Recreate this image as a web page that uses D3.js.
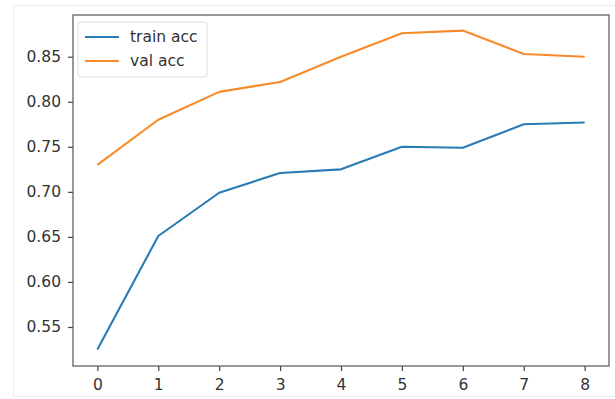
<!DOCTYPE html>
<html>
<head>
<meta charset="utf-8">
<script src="https://cdn.jsdelivr.net/npm/d3@7"></script>
<style>
  body { margin: 0; background: #fff; }
  svg { display: block; font-family: "DejaVu Sans", sans-serif; }
</style>
</head>
<body>
<svg id="chart" width="615" height="399"></svg>
<script>
// Accuracy per epoch
const epochs = [0, 1, 2, 3, 4, 5, 6, 7, 8];
const trainAcc = [0.525, 0.651, 0.699, 0.721, 0.725, 0.750, 0.749, 0.775, 0.777];
const valAcc = [0.730, 0.780, 0.811, 0.822, 0.850, 0.876, 0.879, 0.853, 0.850];
const yTicks = [0.55, 0.60, 0.65, 0.70, 0.75, 0.80, 0.85];

const svg = d3.select('#chart');
const width = 615;
const height = 399;
const margin = { top: 15, right: 6, bottom: 33, left: 73 };

// faint output frame
svg.append('rect')
  .attr('x', 13.5).attr('y', 5.5)
  .attr('width', width - 13).attr('height', 391)
  .attr('fill', 'none')
  .attr('stroke', '#ececec');

const xScale = d3.scaleLinear()
  .domain([-0.4, 8.4])
  .range([margin.left, width - margin.right]);

const yScale = d3.scaleLinear()
  .domain([0.5067, 0.8963])
  .range([height - margin.bottom, margin.top]);

// axes
const xAxis = svg.append('g')
  .attr('transform', `translate(0,${height - margin.bottom})`)
  .call(d3.axisBottom(xScale).tickValues(epochs).tickSize(5).tickPadding(8));

const yAxis = svg.append('g')
  .attr('transform', `translate(${margin.left},0)`)
  .call(d3.axisLeft(yScale).tickValues(yTicks).tickFormat(d3.format('.2f')).tickSize(5).tickPadding(7));

[xAxis, yAxis].forEach(ax => {
  ax.select('.domain').remove();
  ax.selectAll('line').attr('stroke', '#444').attr('stroke-width', 1.2);
  ax.selectAll('text').attr('fill', '#333').attr('font-size', '15.5px').attr('font-family', '"DejaVu Sans", sans-serif');
});

// lines
const line = d3.line()
  .x((d, i) => xScale(epochs[i]))
  .y(d => yScale(d));

svg.append('path')
  .datum(trainAcc)
  .attr('d', line)
  .attr('fill', 'none')
  .attr('stroke', '#2a7ab4')
  .attr('stroke-width', 2.1)
  .attr('stroke-linejoin', 'round');

svg.append('path')
  .datum(valAcc)
  .attr('d', line)
  .attr('fill', 'none')
  .attr('stroke', '#f98a2a')
  .attr('stroke-width', 2.1)
  .attr('stroke-linejoin', 'round');

// frame (spines)
svg.append('rect')
  .attr('x', margin.left)
  .attr('y', margin.top)
  .attr('width', width - margin.left - margin.right)
  .attr('height', height - margin.top - margin.bottom)
  .attr('fill', 'none')
  .attr('stroke', '#555')
  .attr('stroke-width', 1.2);

// legend
const legendData = [
  { label: 'train acc', color: '#2a7ab4' },
  { label: 'val acc', color: '#f98a2a' }
];

const legend = svg.append('g')
  .attr('transform', `translate(${margin.left + 5}, ${margin.top + 7})`);

legend.append('rect')
  .attr('x', 0).attr('y', 0)
  .attr('width', 129).attr('height', 55)
  .attr('rx', 3)
  .attr('fill', '#fff')
  .attr('fill-opacity', 0.8)
  .attr('stroke', '#dcdcdc');

legendData.forEach((item, i) => {
  const g = legend.append('g')
    .attr('transform', `translate(7, ${15 + i * 24})`);

  g.append('line')
    .attr('x1', 0).attr('x2', 34)
    .attr('y1', 0).attr('y2', 0)
    .attr('stroke', item.color)
    .attr('stroke-width', 2.1);

  g.append('text')
    .attr('x', 45)
    .attr('y', 5)
    .attr('fill', '#333')
    .attr('font-size', '15.5px')
    .text(item.label);
});
</script>
</body>
</html>
